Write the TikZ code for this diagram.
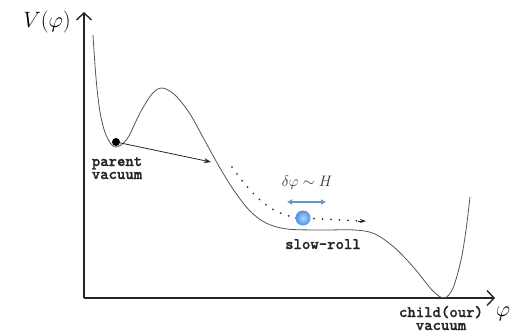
\documentclass[tikz,border=0pt]{standalone}
\usepackage{fontspec}
\newfontfamily\tbfont{lmmonolt10-bold.otf}[FakeBold=1.2]
\usetikzlibrary{arrows.meta,calc}
\definecolor{curvegray}{RGB}{85,85,85}
\definecolor{ballin}{RGB}{175,215,255}
\definecolor{ballout}{RGB}{75,145,228}
\definecolor{arrblue}{RGB}{105,150,200}
\tikzset{
  axis/.style={line width=1.4pt, black!85, -{Straight Barb[length=7pt,width=15pt,line width=1.4pt]}},
  pot/.style={line width=0.8pt, curvegray},
  lbl/.style={font=\fontsize{16}{13}\selectfont\tbfont, anchor=base, inner sep=0pt, text=black!85},
  mathlbl/.style={font=\fontsize{20.74}{25}\selectfont, inner sep=0pt, scale=1.07},
  dotpath/.style={line width=2pt, line cap=round, dash pattern=on 0pt off 8.5pt, black!80},
}
\begin{document}
\begin{tikzpicture}[x=1pt,y=-1pt]
\useasboundingbox (0,0) rectangle (512,333);
% axes
\coordinate (origin) at (84,298);
\coordinate (ytop) at (84,12);
\coordinate (xend) at (495,298);
\draw[axis] (origin) -- (ytop);
\draw[axis] (origin) -- (xend);
\node[mathlbl] (vlabel) at (47,22) {$V(\varphi)$};
\node[mathlbl] (philabel) at (503,314) {$\varphi$};
% potential
\draw[pot] plot[smooth, tension=0.55] coordinates {
 (93,35) (96,78) (100,112) (106,135) (115,147) (127,139) (140,113) (152,94) (162,88)
 (175,95) (190,114) (205,141) (220,168) (235,192) (250,211) (266,223) (287,229)
 (320,230) (355,230) (375,234) (395,248) (415,269) (432,290) (444,298) (453,288)
 (461,260) (466,230) (470,197)};
% parent vacuum
\node[circle, fill=black, minimum size=8pt, inner sep=0pt] (dot) at (116,142) {};
\coordinate (tunnel) at (211,162);
\draw[line width=0.8pt, black!85, -{Stealth[length=7pt,width=5pt]}] (dot) -- (tunnel);
\node[lbl] (parent1) at (117,166) {parent};
\node[lbl] (parent2) at (117,179) {vacuum};
% dotted path and ball
\coordinate (dstart) at (232,167);
\coordinate (dend) at (366,221);
\node[circle, minimum size=15pt, inner sep=0pt] (ball) at (303,218) {};
\draw[dotpath] (dstart) .. controls (255,200) and (275,217) .. (ball.center) -- ($(dend)+(-5,0)$);
\draw[line width=0.8pt, black!85, -{Stealth[length=6pt,width=4pt]}] ($(dend)+(-8,0)$) -- (dend);
\shade[inner color=ballin, outer color=ballout] (ball.center) circle (7.5pt);
% fluctuation
\coordinate (da1) at (287,202);
\coordinate (da2) at (326,202);
\draw[line width=1.5pt, arrblue, {Latex[length=5pt,width=6pt]}-{Latex[length=5pt,width=6pt]}] (da1) -- (da2);
\node[font=\Large, inner sep=0pt, text=black!80, scale=1.05] (dphi) at (307,183) {$\delta\varphi\sim H$};
\node[lbl] (slowroll) at (323,249) {slow-roll};
\node[lbl] (child1) at (441,317) {child(our)};
\node[lbl] (child2) at (441,330) {vacuum};
\end{tikzpicture}
\end{document}
